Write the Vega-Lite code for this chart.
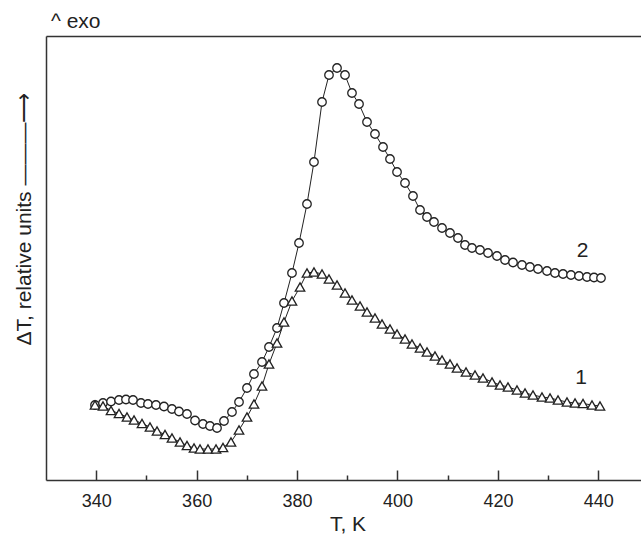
{
  "$schema": "https://vega.github.io/schema/vega-lite/v6.json",
  "width": 595,
  "height": 444,
  "autosize": {"type": "none"},
  "padding": {"left": 46, "top": 36, "right": 0, "bottom": 55},
  "background": "white",
  "config": {
    "view": {"stroke": null},
    "font": "Liberation Sans",
    "axis": {"grid": false, "domainColor": "#333", "domainWidth": 1.5, "tickColor": "#333", "tickWidth": 1.5, "labelColor": "#222", "titleColor": "#222", "labelFont": "Liberation Sans", "titleFont": "Liberation Sans"}
  },
  "title": {"text": "^ exo", "anchor": "start", "frame": "group", "fontSize": 21, "fontWeight": "normal", "font": "Liberation Sans", "color": "#222", "dx": 5, "offset": -13, "baseline": "alphabetic"},
  "data": {"values": [
    {"s": "2", "T": 339.76, "v": 75},
    {"s": "2", "T": 341.35, "v": 77},
    {"s": "2", "T": 342.95, "v": 78.5},
    {"s": "2", "T": 344.54, "v": 80},
    {"s": "2", "T": 345.93, "v": 80.5},
    {"s": "2", "T": 347.33, "v": 80},
    {"s": "2", "T": 348.92, "v": 77},
    {"s": "2", "T": 350.31, "v": 76},
    {"s": "2", "T": 351.91, "v": 75},
    {"s": "2", "T": 353.5, "v": 73.5},
    {"s": "2", "T": 355.09, "v": 71},
    {"s": "2", "T": 356.49, "v": 68.5},
    {"s": "2", "T": 358.08, "v": 66},
    {"s": "2", "T": 359.68, "v": 59.5},
    {"s": "2", "T": 361.27, "v": 56},
    {"s": "2", "T": 362.66, "v": 54},
    {"s": "2", "T": 364.06, "v": 52},
    {"s": "2", "T": 365.45, "v": 59},
    {"s": "2", "T": 367.04, "v": 68},
    {"s": "2", "T": 368.44, "v": 78},
    {"s": "2", "T": 370.03, "v": 92},
    {"s": "2", "T": 371.42, "v": 106},
    {"s": "2", "T": 373.02, "v": 118},
    {"s": "2", "T": 374.41, "v": 133},
    {"s": "2", "T": 376.01, "v": 152},
    {"s": "2", "T": 377.4, "v": 177},
    {"s": "2", "T": 378.99, "v": 207},
    {"s": "2", "T": 380.39, "v": 237},
    {"s": "2", "T": 381.98, "v": 276},
    {"s": "2", "T": 383.37, "v": 318},
    {"s": "2", "T": 384.97, "v": 378},
    {"s": "2", "T": 386.36, "v": 405},
    {"s": "2", "T": 387.96, "v": 412},
    {"s": "2", "T": 389.55, "v": 405},
    {"s": "2", "T": 390.94, "v": 387},
    {"s": "2", "T": 392.34, "v": 376},
    {"s": "2", "T": 393.93, "v": 358},
    {"s": "2", "T": 395.52, "v": 346},
    {"s": "2", "T": 397.12, "v": 333},
    {"s": "2", "T": 398.51, "v": 321},
    {"s": "2", "T": 399.91, "v": 308},
    {"s": "2", "T": 401.5, "v": 297},
    {"s": "2", "T": 403.09, "v": 284},
    {"s": "2", "T": 404.49, "v": 270},
    {"s": "2", "T": 405.88, "v": 263},
    {"s": "2", "T": 407.27, "v": 258},
    {"s": "2", "T": 408.87, "v": 252},
    {"s": "2", "T": 410.46, "v": 247},
    {"s": "2", "T": 412.05, "v": 242},
    {"s": "2", "T": 413.45, "v": 235},
    {"s": "2", "T": 414.84, "v": 232},
    {"s": "2", "T": 416.44, "v": 230},
    {"s": "2", "T": 418.03, "v": 227},
    {"s": "2", "T": 419.82, "v": 224},
    {"s": "2", "T": 421.42, "v": 220},
    {"s": "2", "T": 423.01, "v": 217.5},
    {"s": "2", "T": 424.8, "v": 215},
    {"s": "2", "T": 426.39, "v": 213},
    {"s": "2", "T": 427.99, "v": 211},
    {"s": "2", "T": 429.78, "v": 209},
    {"s": "2", "T": 431.37, "v": 207},
    {"s": "2", "T": 432.97, "v": 206},
    {"s": "2", "T": 434.56, "v": 205},
    {"s": "2", "T": 436.15, "v": 204},
    {"s": "2", "T": 437.75, "v": 203},
    {"s": "2", "T": 439.14, "v": 202.5},
    {"s": "2", "T": 440.53, "v": 202},
    {"s": "1", "T": 339.76, "v": 75},
    {"s": "1", "T": 341.35, "v": 74},
    {"s": "1", "T": 342.95, "v": 69.5},
    {"s": "1", "T": 344.54, "v": 66.5},
    {"s": "1", "T": 346.13, "v": 63},
    {"s": "1", "T": 347.53, "v": 60},
    {"s": "1", "T": 349.12, "v": 56.5},
    {"s": "1", "T": 350.71, "v": 53},
    {"s": "1", "T": 352.11, "v": 49},
    {"s": "1", "T": 353.7, "v": 45.5},
    {"s": "1", "T": 355.09, "v": 42},
    {"s": "1", "T": 356.69, "v": 38},
    {"s": "1", "T": 358.08, "v": 34.5},
    {"s": "1", "T": 359.48, "v": 32},
    {"s": "1", "T": 360.67, "v": 31},
    {"s": "1", "T": 362.26, "v": 31},
    {"s": "1", "T": 363.86, "v": 31},
    {"s": "1", "T": 365.25, "v": 32.5},
    {"s": "1", "T": 366.84, "v": 38},
    {"s": "1", "T": 368.44, "v": 50},
    {"s": "1", "T": 370.03, "v": 63},
    {"s": "1", "T": 371.42, "v": 76},
    {"s": "1", "T": 373.02, "v": 94},
    {"s": "1", "T": 374.41, "v": 116},
    {"s": "1", "T": 376.01, "v": 137},
    {"s": "1", "T": 377.4, "v": 158},
    {"s": "1", "T": 378.99, "v": 179},
    {"s": "1", "T": 380.59, "v": 193},
    {"s": "1", "T": 381.98, "v": 207},
    {"s": "1", "T": 383.37, "v": 208},
    {"s": "1", "T": 384.97, "v": 206},
    {"s": "1", "T": 386.36, "v": 201},
    {"s": "1", "T": 387.96, "v": 195},
    {"s": "1", "T": 389.55, "v": 187},
    {"s": "1", "T": 390.94, "v": 180},
    {"s": "1", "T": 392.54, "v": 174},
    {"s": "1", "T": 393.93, "v": 168},
    {"s": "1", "T": 395.52, "v": 162},
    {"s": "1", "T": 396.92, "v": 156},
    {"s": "1", "T": 398.51, "v": 151},
    {"s": "1", "T": 399.91, "v": 146},
    {"s": "1", "T": 401.5, "v": 141},
    {"s": "1", "T": 402.89, "v": 136},
    {"s": "1", "T": 404.49, "v": 132},
    {"s": "1", "T": 405.88, "v": 128},
    {"s": "1", "T": 407.47, "v": 124},
    {"s": "1", "T": 408.87, "v": 120},
    {"s": "1", "T": 410.46, "v": 116},
    {"s": "1", "T": 411.86, "v": 112},
    {"s": "1", "T": 413.65, "v": 108},
    {"s": "1", "T": 415.44, "v": 105},
    {"s": "1", "T": 417.03, "v": 102},
    {"s": "1", "T": 418.83, "v": 98},
    {"s": "1", "T": 420.42, "v": 95},
    {"s": "1", "T": 422.01, "v": 93},
    {"s": "1", "T": 423.8, "v": 90},
    {"s": "1", "T": 425.4, "v": 87},
    {"s": "1", "T": 426.99, "v": 85},
    {"s": "1", "T": 428.78, "v": 83},
    {"s": "1", "T": 430.38, "v": 82},
    {"s": "1", "T": 431.97, "v": 80},
    {"s": "1", "T": 433.76, "v": 78},
    {"s": "1", "T": 435.36, "v": 77},
    {"s": "1", "T": 436.95, "v": 76.5},
    {"s": "1", "T": 438.74, "v": 75},
    {"s": "1", "T": 440.33, "v": 74}
  ]},
  "encoding": {
    "y": {"field": "v", "type": "quantitative", "scale": {"domain": [0, 444], "nice": false, "zero": false},
      "axis": {"title": "ΔT, relative units  ———⟶", "ticks": false, "labels": false, "grid": false, "titleAngle": 270, "titleAlign": "left", "titleBaseline": "middle", "titleX": -22, "titleY": 309, "titleFontSize": 21, "titleFontWeight": "normal"}}
  },
  "layer": [
    {
      "mark": {"type": "line", "stroke": "#222", "strokeWidth": 1},
      "encoding": {
        "x": {"field": "T", "type": "quantitative", "scale": {"domain": [330, 448.5], "nice": false, "zero": false},
          "axis": {"values": [340, 360, 380, 400, 420, 440], "tickSize": -10, "labelPadding": 22, "labelFontSize": 18, "title": "T, K", "titleFontSize": 21, "titleFontWeight": "normal", "titleBaseline": "alphabetic", "titleAlign": "center", "titleX": 301.5, "titleY": 50}},
        "detail": {"field": "s", "type": "nominal"}
      }
    },
    {
      "transform": [{"filter": "datum.s === '2'"}],
      "mark": {"type": "point", "shape": "circle", "filled": true, "fill": "white", "stroke": "#222", "strokeWidth": 1.3, "size": 72, "opacity": 1},
      "encoding": {
        "x": {"field": "T", "type": "quantitative", "scale": {"domain": [330, 448.5], "nice": false, "zero": false},
          "axis": {"orient": "bottom", "values": [350, 370, 390, 410, 430], "tickSize": -5, "labels": false, "domain": false, "title": null}}
      }
    },
    {
      "transform": [{"filter": "datum.s === '1'"}],
      "mark": {"type": "point", "shape": "triangle-up", "filled": true, "fill": "white", "stroke": "#222", "strokeWidth": 1.3, "size": 90, "opacity": 1},
      "encoding": {
        "x": {"field": "T", "type": "quantitative", "scale": {"domain": [330, 448.5], "nice": false, "zero": false},
          "axis": {"orient": "top", "labels": false, "ticks": false, "title": null}}
      }
    },
    {
      "data": {"values": [{"T": 436.85, "v": 229.3, "label": "2"}, {"T": 436.55, "v": 102.5, "label": "1"}]},
      "mark": {"type": "text", "fontSize": 21, "font": "Liberation Sans", "color": "#222", "baseline": "middle", "align": "center"},
      "encoding": {
        "x": {"field": "T", "type": "quantitative", "scale": {"domain": [330, 448.5], "nice": false, "zero": false}, "axis": null},
        "text": {"field": "label", "type": "nominal"}
      }
    }
  ],
  "resolve": {"axis": {"x": "independent"}}
}
